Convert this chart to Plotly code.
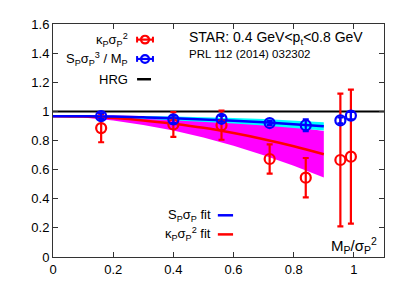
import plotly.graph_objects as go

# Data points (M_P / sigma_P^2)
x_pts = [0.16, 0.40, 0.56, 0.72, 0.84, 0.955, 0.99]
kappa_vals = [0.885, 0.91, 0.905, 0.673, 0.545, 0.666, 0.689]
kappa_err = [0.097, 0.085, 0.10, 0.10, 0.135, 0.456, 0.46]
skew_vals = [0.967, 0.945, 0.949, 0.92, 0.905, 0.938, 0.971]
skew_err = [0.02, 0.025, 0.02, 0.015, 0.04, 0.02, 0.025]

# Fit curves
x_fit = [0.0, 0.1, 0.2, 0.3, 0.4, 0.5, 0.6, 0.7, 0.8, 0.9]
kappa_fit = [0.967, 0.964, 0.954, 0.938, 0.915, 0.887, 0.851, 0.809, 0.761, 0.706]
kappa_band = [0.0, 0.006, 0.017, 0.031, 0.047, 0.066, 0.087, 0.110, 0.134, 0.160]
skew_fit = [0.967, 0.966, 0.964, 0.959, 0.953, 0.945, 0.936, 0.925, 0.912, 0.897]
skew_band = [0.0, 0.003, 0.006, 0.009, 0.012, 0.016, 0.019, 0.022, 0.025, 0.028]

hrg_x = [0.0, 1.1]
hrg_y = [1.0, 1.0]

RED = "#ff0000"
BLUE = "#0000ff"
FONT = "Liberation Sans"

fig = go.Figure()

k_up = [v + b for v, b in zip(kappa_fit, kappa_band)]
k_lo = [v - b for v, b in zip(kappa_fit, kappa_band)]
fig.add_trace(go.Scatter(x=x_fit + x_fit[::-1], y=k_up + k_lo[::-1], fill="toself",
                         fillcolor="#ff00ff", line=dict(width=0), mode="lines",
                         hoverinfo="skip", showlegend=False))
s_up = [v + b for v, b in zip(skew_fit, skew_band)]
s_lo = [v - b for v, b in zip(skew_fit, skew_band)]
fig.add_trace(go.Scatter(x=x_fit + x_fit[::-1], y=s_up + s_lo[::-1], fill="toself",
                         fillcolor="#00ffff", line=dict(width=0), mode="lines",
                         hoverinfo="skip", showlegend=False))
fig.add_trace(go.Scatter(x=x_fit, y=kappa_fit, mode="lines", line=dict(color=RED, width=2.5),
                         line_shape="spline", showlegend=False))
fig.add_trace(go.Scatter(x=x_fit, y=skew_fit, mode="lines", line=dict(color=BLUE, width=2.5),
                         line_shape="spline", showlegend=False))
fig.add_trace(go.Scatter(x=hrg_x, y=hrg_y, mode="lines", line=dict(color="black", width=2),
                         showlegend=False))

fig.add_trace(go.Scatter(x=x_pts, y=kappa_vals, mode="markers",
                         marker=dict(symbol="circle-open", size=10, color=RED, line=dict(width=2.2)),
                         error_y=dict(type="data", array=kappa_err, color=RED, thickness=2.2, width=3),
                         showlegend=False))
fig.add_trace(go.Scatter(x=x_pts, y=skew_vals, mode="markers",
                         marker=dict(symbol="circle-open", size=10, color=BLUE, line=dict(width=2.2)),
                         error_y=dict(type="data", array=skew_err, color=BLUE, thickness=2.2, width=3),
                         showlegend=False))

axis_common = dict(showgrid=False, zeroline=False, showline=True, linecolor="#333333",
                   linewidth=1, mirror="ticks", ticks="inside", ticklen=5,
                   tickcolor="#333333", tickfont=dict(family=FONT, size=13, color="black"))
fig.update_xaxes(range=[0, 1.1], tickvals=[0, 0.2, 0.4, 0.6, 0.8, 1.0],
                 ticktext=["0", "0.2", "0.4", "0.6", "0.8", "1"], **axis_common)
fig.update_yaxes(range=[0, 1.6], tickvals=[0, 0.2, 0.4, 0.6, 0.8, 1.0, 1.2, 1.4, 1.6],
                 ticktext=["0", "0.2", "0.4", "0.6", "0.8", "1", "1.2", "1.4", "1.6"], **axis_common)

annots = []
shapes = []
PW, PH = 331.0, 241.6

def txt(x, y, s, anchor="right", size=13):
    annots.append(dict(x=x, y=y, xref="paper", yref="paper", text=s, showarrow=False,
                       xanchor=anchor, yanchor="middle",
                       font=dict(family=FONT, size=size, color="black")))

def leg_point(y, color):
    shapes.append(dict(type="line", xref="paper", yref="paper", x0=0.254, x1=0.302, y0=y, y1=y,
                       line=dict(color=color, width=2.2)))
    r_x = 4 / PW
    r_y = 4 / PH
    shapes.append(dict(type="circle", xref="paper", yref="paper", x0=0.278 - r_x, x1=0.278 + r_x,
                       y0=y - r_y, y1=y + r_y, line=dict(color=color, width=2.2),
                       fillcolor="rgba(0,0,0,0)"))
    for xe in (0.254, 0.302):
        shapes.append(dict(type="line", xref="paper", yref="paper", x0=xe, x1=xe,
                           y0=y - 3 / PH, y1=y + 3 / PH, line=dict(color=color, width=2)))

def leg_line(y, color, x0, x1):
    shapes.append(dict(type="line", xref="paper", yref="paper", x0=x0, x1=x1, y0=y, y1=y,
                       line=dict(color=color, width=2.5)))

txt(0.232, 0.933, "κ<sub>P</sub>σ<sub>P</sub><sup>2</sup>")
leg_point(0.933, RED)
txt(0.232, 0.85, "S<sub>P</sub>σ<sub>P</sub><sup>3</sup> / M<sub>P</sub>")
leg_point(0.85, BLUE)
txt(0.232, 0.763, "HRG")
leg_line(0.763, "black", 0.254, 0.296)

txt(0.405, 0.942, "STAR: 0.4 GeV&lt;p<sub>t</sub>&lt;0.8 GeV", anchor="left", size=14)
txt(0.405, 0.872, "PRL 112 (2014) 032302", anchor="left", size=11.5)

txt(0.482, 0.179, "S<sub>P</sub>σ<sub>P</sub> fit")
leg_line(0.179, BLUE, 0.498, 0.544)
txt(0.482, 0.097, "κ<sub>P</sub>σ<sub>P</sub><sup>2</sup> fit")
leg_line(0.097, RED, 0.498, 0.544)

txt(0.985, 0.05, "M<sub>P</sub>/σ<sub>P</sub><sup>2</sup>", size=15)

# page has an 8px body margin, so the figure is shrunk by 8px on each axis
fig.update_layout(width=401, height=278, margin=dict(l=45, r=25, t=9, b=27),
                  paper_bgcolor="white", plot_bgcolor="white",
                  annotations=annots, shapes=shapes, showlegend=False)

fig.write_html("out.html")
